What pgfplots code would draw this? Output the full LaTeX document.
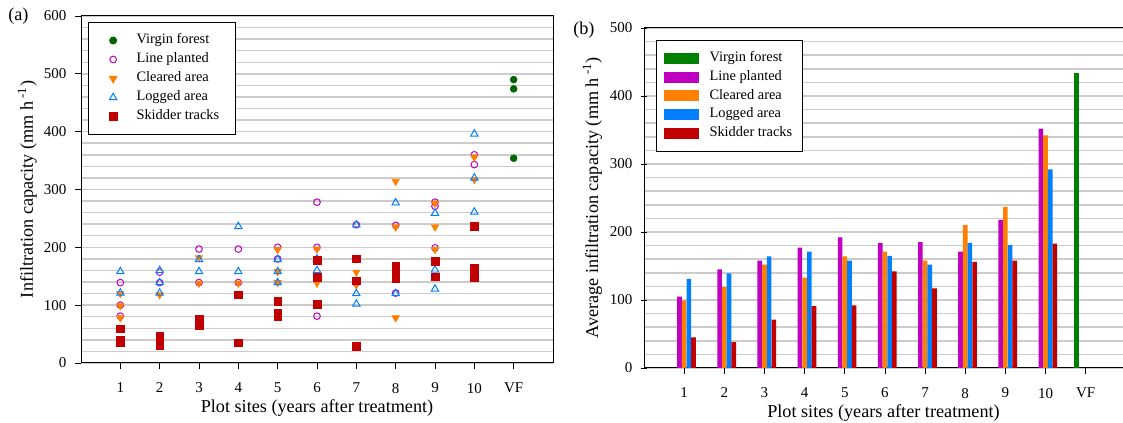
\documentclass[border=0pt]{standalone}
\usepackage{fontspec}
\setmainfont{Liberation Serif}
\usepackage{pgfplots}
\pgfplotsset{compat=1.18}

\definecolor{cvf}{RGB}{0,100,0}
\definecolor{cvfbar}{RGB}{0,128,0}
\definecolor{clp}{RGB}{192,0,192}
\definecolor{cca}{RGB}{255,128,0}
\definecolor{cla}{RGB}{0,128,255}
\definecolor{cst}{RGB}{192,0,0}

\newcommand\tickfont{\fontsize{11.25}{13}\selectfont}
\newcommand\legfont{\fontsize{10.8}{12.5}\selectfont}
\newcommand\labfont{\fontsize{13.65}{16}\selectfont}

\pgfplotsset{
  common/.style={
    scale only axis,
    anchor=south west,
    xmin=0, ymin=0,
    xtick={1,...,11},
    xticklabels={1,2,3,4,5,6,7,8,9,10,VF},
    tick align=outside,
    major tick length=4.5pt,
    minor tick length=0pt,
    minor y tick num=4,
    ymajorgrids, yminorgrids,
    grid style={black!20, line width=1.1pt},
    tick style={black, line width=0.6pt},
    axis line style={line width=0.75pt},
    ticklabel style={font=\tickfont},
    /pgf/number format/assume math mode=true,
    xticklabel style={yshift=-7pt},
    yticklabel style={xshift=-3pt},
    label style={font=\labfont},
    xlabel={Plot sites (years after treatment)},
    legend cell align=left,
  },
  xlab/.style={
    xlabel style={at={(axis description cs:0.5,0)}, anchor=base, yshift=-37.5pt, font=\labfont},
  },
}

\begin{document}
\begin{tikzpicture}
\useasboundingbox (0,0) rectangle (842.25pt,317.25pt);
\node[anchor=base west, font=\labfont, inner sep=0pt] at (6pt,301.5pt) {(a)};
\node[anchor=base west, font=\labfont, inner sep=0pt] at (429.75pt,291pt) {(b)};

% ---------------- panel (a) ----------------
\begin{axis}[common,
  at={(60.75pt,45pt)},
  width=354pt, height=260.25pt,
  xmax=12, ymax=600,
  ytick={0,100,...,600},
  xtick pos=left, ytick pos=left,
  xlab,
  ylabel={Infiltration capacity (mm h\textsuperscript{ -1})},
  ylabel style={at={(axis description cs:-0.1017,0.5)}, anchor=base, font=\labfont},
  legend style={at={(0,1)}, anchor=north west, xshift=5.25pt, yshift=-4.5pt,
    draw=black, line width=0.75pt, font=\legfont,
    inner xsep=10.5pt, inner ysep=8pt, row sep=3.25pt, column sep=7.5pt,
    nodes={inner ysep=0pt, text height=8pt, text depth=3pt}},
  legend image code/.code={\path[draw=none,fill=none] (0pt,-1pt) rectangle (16pt,1pt);
    \draw[#1, only marks] plot coordinates {(8pt,0pt)};},
]
\addplot[only marks, mark=*, mark size=2.6pt, color=cvf] coordinates {
 (11,490)(11,474)(11,354)};
\addlegendentry{Virgin forest}
\addplot[only marks, mark=o, mark size=2.5pt, color=clp, line width=0.75pt] coordinates {
 (1,139)(1,100)(1,81)(2,157)(2,139)(3,197)(3,139)(4,197)(4,139)(5,200)(5,180)
 (6,278)(6,200)(6,81)(7,239)(7,180)(7,138)(8,238)(8,121)(9,278)(9,271)(9,199)
 (10,360)(10,343)};
\addlegendentry{Line planted}
\addplot[only marks, mark=triangle*, mark size=3.2pt, color=cca, mark options={rotate=180}] coordinates {
 (1,120)(1,99)(1,78)(2,118)(3,182)(3,138)(4,138)(4,120)(5,196)(5,158)(5,139)
 (6,197)(6,178)(6,138)(7,180)(7,157)(7,135)(8,314)(8,235)(8,78)(9,276)(9,235)(9,196)
 (10,356)(10,317)};
\addlegendentry{Cleared area}
\addplot[only marks, mark=triangle, mark size=3.2pt, color=cla, line width=0.75pt] coordinates {
 (1,158)(1,121)(2,160)(2,139)(2,121)(3,179)(3,158)(4,236)(4,158)(5,179)(5,158)(5,139)
 (6,180)(6,160)(7,239)(7,120)(7,102)(8,277)(8,120)(9,259)(9,161)(9,128)
 (10,396)(10,320)(10,261)};
\addlegendentry{Logged area}
\addplot[only marks, mark=square*, mark size=2.9pt, color=cst] coordinates {
 (1,59)(1,40)(1,35)(2,46)(2,35)(2,30)(3,75)(3,65)(4,118)(4,35)(5,107)(5,86)(5,81)
 (6,177)(6,148)(6,101)(7,180)(7,142)(7,29)(8,167)(8,156)(8,147)(9,176)(9,149)
 (10,237)(10,164)(10,148)};
\addlegendentry{Skidder tracks}
\end{axis}

% ---------------- panel (b) ----------------
\begin{axis}[common,
  at={(483pt,41.25pt)},
  width=359.25pt, height=255pt,
  xmax=11.93, ymax=500,
  ytick={0,100,...,500},
  separate axis lines,
  axis x line=box, axis y line=left,
  x axis line style={-}, y axis line style={-},
  xtick pos=left, ytick pos=left,
  xlab,
  ybar, bar width=0.115,
  ylabel={Average infiltration capacity (mm h\textsuperscript{ -1})},
  ylabel style={at={(axis description cs:-0.096,0.5)}, anchor=base, font=\labfont},
  legend style={at={(0,1)}, anchor=north west, xshift=9pt, yshift=-9pt,
    draw=black, line width=0.75pt, font=\legfont,
    inner xsep=5.5pt, inner ysep=8pt, row sep=3pt, column sep=6pt,
    nodes={inner ysep=0pt, text height=8pt, text depth=3pt}},
  legend image code/.code={\fill[#1] (0pt,-4.1pt) rectangle (26.25pt,4.1pt);},
]
\addplot[fill=cvfbar, draw=none, bar shift=-0.234] coordinates {(11,434)};
\addlegendentry{Virgin forest}
\addplot[fill=clp, draw=none, bar shift=-0.117] coordinates {
 (1,105)(2,145)(3,158)(4,177)(5,192)(6,184)(7,185)(8,171)(9,218)(10,352)};
\addlegendentry{Line planted}
\addplot[fill=cca, draw=none, bar shift=0] coordinates {
 (1,99)(2,119)(3,152)(4,133)(5,164)(6,171)(7,158)(8,210)(9,237)(10,342)};
\addlegendentry{Cleared area}
\addplot[fill=cla, draw=none, bar shift=0.117] coordinates {
 (1,131)(2,139)(3,164)(4,171)(5,158)(6,165)(7,152)(8,184)(9,181)(10,292)};
\addlegendentry{Logged area}
\addplot[fill=cst, draw=none, bar shift=0.234] coordinates {
 (1,45)(2,38)(3,71)(4,91)(5,92)(6,142)(7,117)(8,156)(9,158)(10,183)};
\addlegendentry{Skidder tracks}
\end{axis}
\end{tikzpicture}
\end{document}
